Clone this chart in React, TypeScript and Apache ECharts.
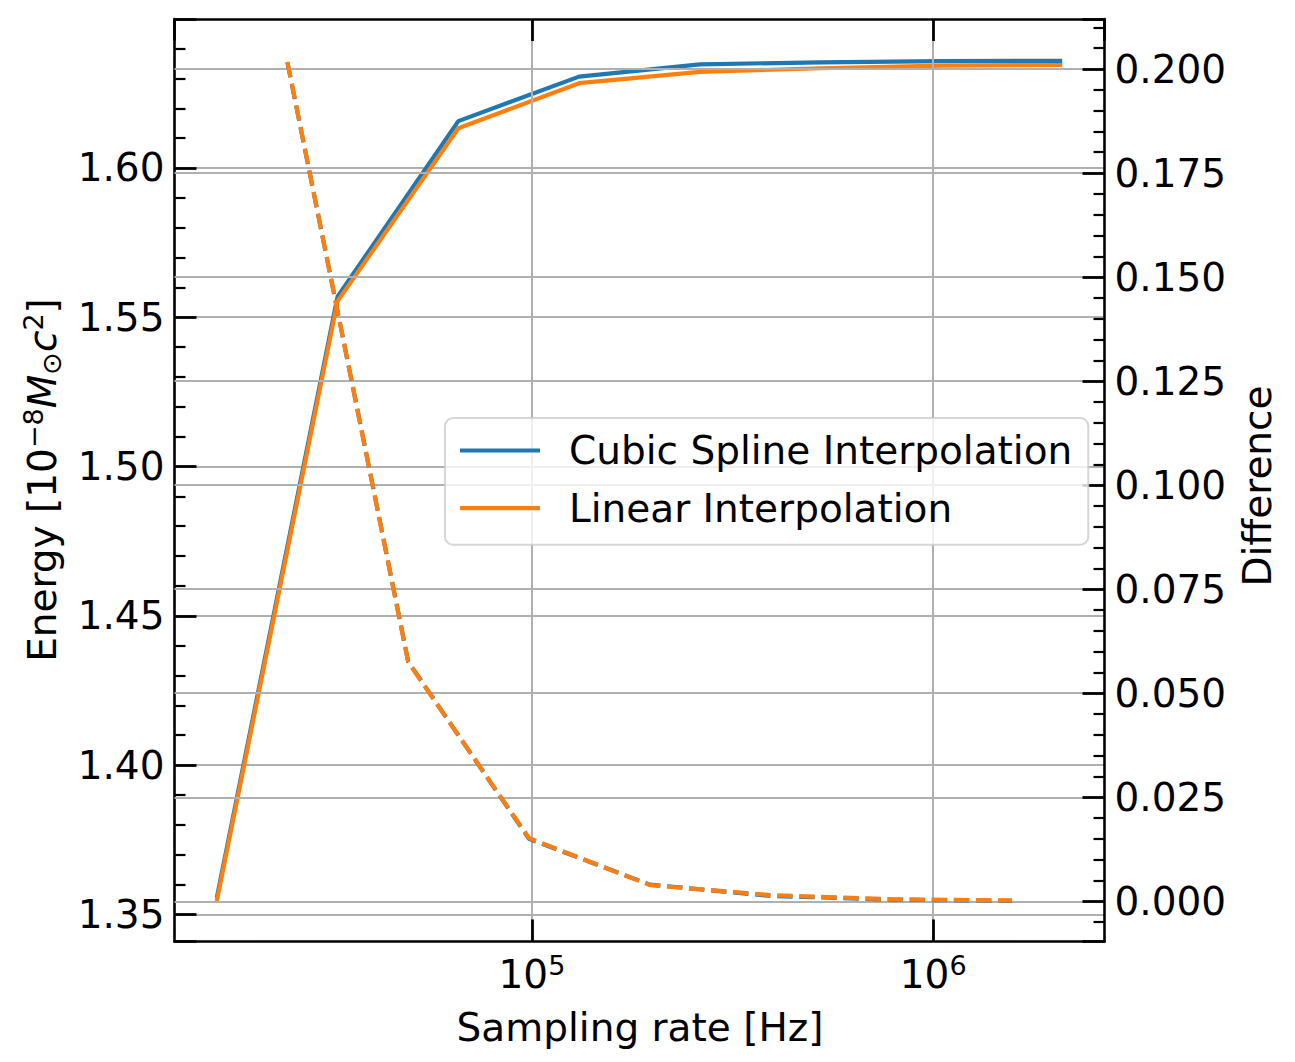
import React, { useEffect, useRef } from 'react';
import * as echarts from 'echarts';

// ---- data ----
const sampleRates = [16384, 32768, 65536, 131072, 262144, 524288, 1048576, 2097152];
const cubicEnergy = [1.3555, 1.5569, 1.6157, 1.6306, 1.6347, 1.6354, 1.6358, 1.6359];
const linearEnergy = [1.3544, 1.5554, 1.6133, 1.6284, 1.6322, 1.6334, 1.6343, 1.6345];

const diffRates = [24576, 49152, 98304, 196608, 393216, 786432, 1572864];
const cubicDiff = [0.2016, 0.0576, 0.015, 0.004, 0.0013, 0.0004, 0.0001];
const linearDiff = [0.2017, 0.0575, 0.0152, 0.0039, 0.0015, 0.0005, 0.0002];

const seriesNames = ['Cubic Spline Interpolation', 'Linear Interpolation'];
const xLabel = 'Sampling rate [Hz]';
const yRightLabel = 'Difference';

const FONT = 'DejaVu Sans';
const BLUE = '#1f77b4';
const ORANGE = '#ff7f0e';
const GRID = '#b0b0b0';

const pairs = (xs: number[], ys: number[]) => xs.map((x, i) => [x, ys[i]]);

const axisLine = { show: true, onZero: false, lineStyle: { color: '#000', width: 2.6 } };
const majorTick = { show: true, inside: true, length: 22, lineStyle: { color: '#000', width: 2.8 } };
const minorTick = { show: true, splitNumber: 5, length: 11, lineStyle: { color: '#000', width: 2.2 } };
const splitLine = { show: true, showMinLine: false, showMaxLine: false, lineStyle: { color: GRID, width: 2 } };
const labelBase = { color: '#000', fontFamily: FONT, fontSize: 39, showMinLabel: false, showMaxLabel: false };

const xMin = 12855;
const xMax = 2673000;

const option: any = {
  animation: false,
  backgroundColor: '#fff',
  grid: { left: 174.5, top: 19, right: 190.5, bottom: 120.5, containLabel: false, outerBoundsMode: 'none' },
  legend: {
    data: seriesNames,
    orient: 'vertical',
    left: 445,
    top: 418,
    padding: [10, 16, 14, 15],
    itemGap: 12.7,
    icon: 'rect',
    itemWidth: 80,
    itemHeight: 4.2,
    backgroundColor: 'rgba(255,255,255,0.8)',
    borderColor: 'rgba(204,204,204,0.8)',
    borderWidth: 2,
    borderRadius: 8,
    itemStyle: { borderWidth: 0 },
    textStyle: { color: '#000', fontFamily: FONT, fontSize: 39, lineHeight: 45, padding: [0, 0, 0, 24] },
    z: 10,
  },
  xAxis: [
    {
      type: 'log',
      logBase: 10,
      min: xMin,
      max: xMax,
      position: 'bottom',
      z: 2,
      axisLine,
      axisTick: majorTick,
      minorTick: { show: false },
      axisLabel: {
        ...labelBase,
        margin: 10.5,
        formatter: (v: number) => `{b|10}{s|${Math.round(Math.log10(v))}}`,
        rich: {
          b: { fontFamily: FONT, fontSize: 39, lineHeight: 45, color: '#000' },
          s: { fontFamily: FONT, fontSize: 27, lineHeight: 25, verticalAlign: 'top', color: '#000' },
        },
      },
      splitLine,
    },
    {
      type: 'log',
      logBase: 10,
      min: xMin,
      max: xMax,
      position: 'top',
      z: 2,
      axisLine,
      axisTick: majorTick,
      minorTick: { show: false },
      axisLabel: { show: false },
      splitLine: { show: false },
    },
  ],
  yAxis: [
    {
      type: 'value',
      position: 'left',
      min: 1.3409,
      max: 1.6499,
      minInterval: 0.05,
      maxInterval: 0.05,
      z: 0,
      axisLine,
      axisTick: majorTick,
      minorTick,
      axisLabel: { ...labelBase, margin: 10, formatter: (v: number) => v.toFixed(2) },
      splitLine,
    },
    {
      type: 'value',
      position: 'right',
      min: -0.00966,
      max: 0.21202,
      minInterval: 0.025,
      maxInterval: 0.025,
      z: 2,
      axisLine,
      axisTick: majorTick,
      minorTick,
      axisLabel: { ...labelBase, margin: 10, formatter: (v: number) => v.toFixed(3) },
      splitLine,
    },
  ],
  graphic: [
    {
      type: 'text',
      x: 640,
      y: 1027,
      z: 10,
      style: {
        text: xLabel,
        fontFamily: FONT,
        fontSize: 39,
        fill: '#000',
        align: 'center',
        verticalAlign: 'middle',
        textAlign: 'center',
        textVerticalAlign: 'middle',
      },
    },
    {
      type: 'text',
      x: 42,
      y: 480,
      rotation: Math.PI / 2,
      z: 10,
      style: {
        text: '{a|Energy [10}{sup|\u22128}{it|M}{sub|\u2299}{it|c}{sup|2}{a|]}',
        fontFamily: FONT,
        fontSize: 39,
        fill: '#000',
        align: 'center',
        verticalAlign: 'middle',
        textAlign: 'center',
        textVerticalAlign: 'middle',
        rich: {
          a: { fontFamily: FONT, fontSize: 39, lineHeight: 45, fill: '#000' },
          it: { fontFamily: FONT, fontSize: 39, lineHeight: 45, fontStyle: 'italic', fill: '#000' },
          sup: { fontFamily: FONT, fontSize: 27, lineHeight: 25, verticalAlign: 'top', fill: '#000' },
          sub: { fontFamily: FONT, fontSize: 27, lineHeight: 24, verticalAlign: 'bottom', fill: '#000' },
        },
      },
    },
    {
      type: 'text',
      x: 1257,
      y: 486,
      rotation: Math.PI / 2,
      z: 10,
      style: {
        text: yRightLabel,
        fontFamily: FONT,
        fontSize: 39,
        fill: '#000',
        align: 'center',
        verticalAlign: 'middle',
        textAlign: 'center',
        textVerticalAlign: 'middle',
      },
    },
  ],
  series: [
    {
      name: seriesNames[0],
      type: 'line',
      xAxisIndex: 0,
      yAxisIndex: 0,
      data: pairs(sampleRates, cubicEnergy),
      symbol: 'none',
      showSymbol: false,
      z: 1,
      lineStyle: { color: BLUE, width: 4.2, join: 'round' },
      itemStyle: { color: BLUE },
    },
    {
      name: seriesNames[1],
      type: 'line',
      xAxisIndex: 0,
      yAxisIndex: 0,
      data: pairs(sampleRates, linearEnergy),
      symbol: 'none',
      showSymbol: false,
      z: 1,
      lineStyle: { color: ORANGE, width: 4.2, join: 'round' },
      itemStyle: { color: ORANGE },
    },
    {
      name: 'Cubic Spline Difference',
      type: 'line',
      xAxisIndex: 0,
      yAxisIndex: 1,
      data: pairs(diffRates, cubicDiff),
      symbol: 'none',
      showSymbol: false,
      z: 3,
      lineStyle: { color: BLUE, width: 4.2, type: [15.4, 6.7] },
      itemStyle: { color: BLUE },
    },
    {
      name: 'Linear Difference',
      type: 'line',
      xAxisIndex: 0,
      yAxisIndex: 1,
      data: pairs(diffRates, linearDiff),
      symbol: 'none',
      showSymbol: false,
      z: 3,
      lineStyle: { color: ORANGE, width: 4.2, type: [15.4, 6.7] },
      itemStyle: { color: ORANGE },
    },
  ],
};

export default function App() {
  const ref = useRef<HTMLDivElement>(null);
  useEffect(() => {
    if (!ref.current) return;
    const chart = echarts.init(ref.current, null, { renderer: 'svg' });
    chart.setOption(option);
    return () => chart.dispose();
  }, []);
  return (
    <div
      ref={ref}
      style={{ position: 'fixed', left: 0, top: 0, width: 1295, height: 1062, background: '#fff' }}
    />
  );
}
